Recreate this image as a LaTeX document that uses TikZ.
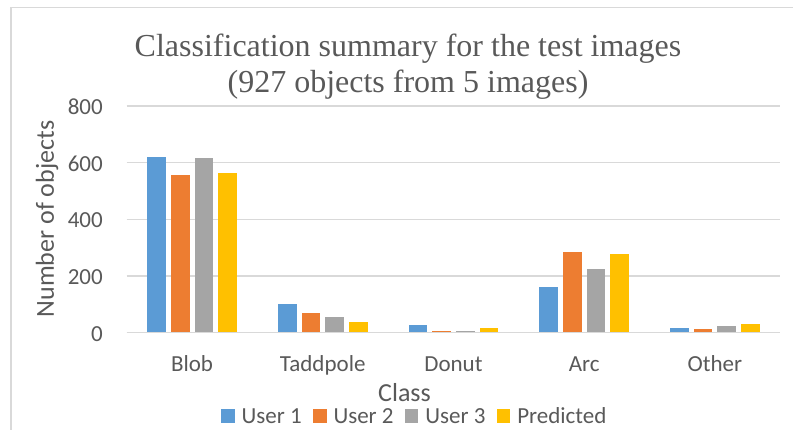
\documentclass[tikz,border=0pt]{standalone}
\usepackage{fontspec}
\setmainfont{Liberation Serif}
\newfontfamily\calfont{Carlito}
\usepackage{tikz}
\usetikzlibrary{positioning}

\definecolor{userA}{HTML}{5B9BD5}
\definecolor{userB}{HTML}{ED7D31}
\definecolor{userC}{HTML}{A5A5A5}
\definecolor{userD}{HTML}{FFC000}
\definecolor{txtgray}{HTML}{595959}
\definecolor{gridgray}{HTML}{D9D9D9}

\begin{document}
\begin{tikzpicture}[x=1pt,y=-1pt,
  title/.style={anchor=base,text=txtgray,inner sep=0pt,font=\fontsize{32}{36}\selectfont},
  lbl/.style={text=txtgray,inner sep=0pt,font=\calfont\fontsize{23}{27}\selectfont},
  axtitle/.style={text=txtgray,inner sep=0pt,font=\calfont\fontsize{26}{30}\selectfont},
  gridline/.style={draw=gridgray,line width=1.5pt},
  key/.style={minimum size=13.5pt,inner sep=0pt},
  keytext/.style={lbl,text height=14.8pt,text depth=0pt,right=6.5pt of #1}]
	  \useasboundingbox (0,0) rectangle (793,430);
	  \draw[gridgray,line width=1.5pt] (11,440) |- (800,7.3);
	  % title
	  \node[title] (title1) at (408,57) {Classification summary for the test images};
	  \node[title] (title2) at (408,93) {(927 objects from 5 images)};
	  % grid and ticks
	  \foreach \t [count=\i from 0] in {0,200,400,600,800}{
	    \draw[gridline] (126.7,{332.7-56.7*\i}) -- (780,{332.7-56.7*\i});
	    \node[lbl,anchor=east] (tick\t) at (103,{334-56.7*\i}) {\t};
	  }
	  % bars
	  \foreach \cls/\va/\vb/\vc/\vd [count=\k from 0] in
	    {Blob/619/556/616/562,Taddpole/101/69/55/38,Donut/26/5/5/17,Arc/160/284/226/279,Other/16/12/22/29}{
	    \pgfmathsetmacro\cx{126.7+130.7*(\k+0.5)}
	    \node[lbl,anchor=base] (cls\k) at (\cx,372) {\cls};
	    \foreach \v/\col [count=\j from 0] in {\va/userA,\vb/userB,\vc/userC,\vd/userD}
	      \fill[\col] ({\cx-44.9+23.7*\j},332.7) rectangle ++(18.7,{-0.2834*\v});
	  }
	  \draw[gridline] (126.7,332.7) -- (780,332.7);
	  % axis titles
	  \node[axtitle,rotate=90] (ylab) at (47,219) {Number of objects};
	  \node[axtitle,anchor=base] (xlab) at (404.5,402) {Class};
	  % legend
	  \node[key,fill=userA] (k1) at (228,416) {};
	  \node[keytext=k1] (t1) {User 1};
	  \node[key,fill=userB,right=11pt of t1] (k2) {};
	  \node[keytext=k2] (t2) {User 2};
	  \node[key,fill=userC,right=11pt of t2] (k3) {};
	  \node[keytext=k3] (t3) {User 3};
	  \node[key,fill=userD,right=11pt of t3] (k4) {};
	  \node[keytext=k4] (t4) {Predicted};
	\end{tikzpicture}
\end{document}
